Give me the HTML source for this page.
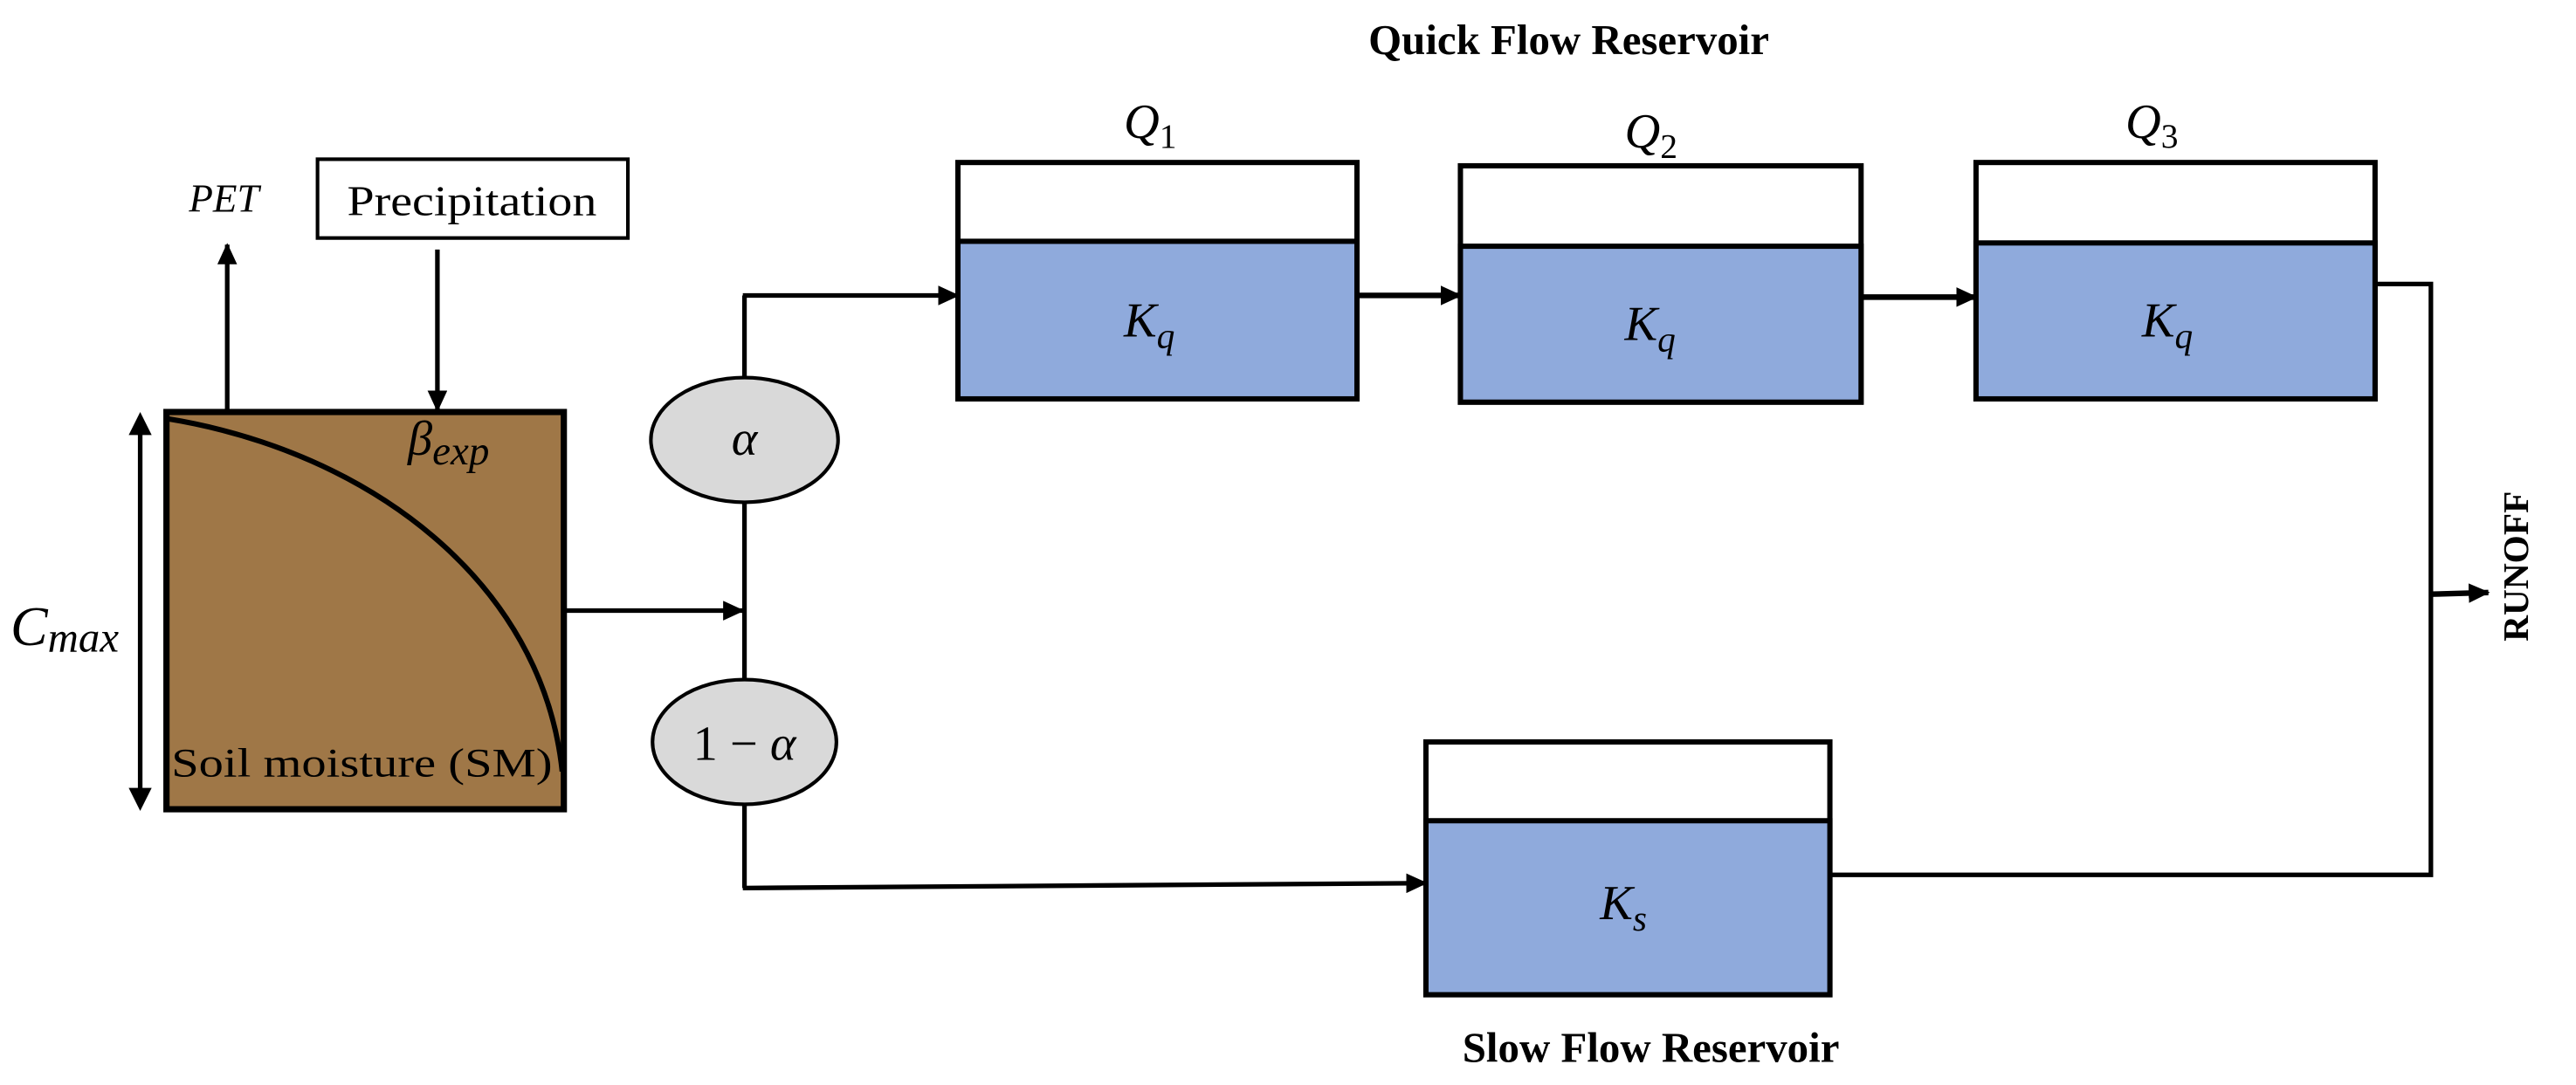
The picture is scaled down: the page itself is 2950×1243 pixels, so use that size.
<!DOCTYPE html>
<html><head><meta charset="utf-8"><style>html,body{margin:0;padding:0;background:#fff}svg{display:block}</style></head>
<body>
<svg width="2950" height="1243" viewBox="0 0 1568 661" xmlns="http://www.w3.org/2000/svg" font-family="Liberation Serif, serif">
<defs>
<marker id="ah" markerWidth="13" markerHeight="12" refX="12" refY="6" orient="auto" markerUnits="userSpaceOnUse">
<path d="M0,0 L13,6 L0,12 Z" fill="#000"/></marker>
</defs>
<g fill="none" stroke="#000" stroke-width="2.8">
<rect x="101" y="251" width="242" height="242" fill="#9F7747" stroke-width="3.8"/>
<path d="M101,255 C225,275 330,355 342,470" stroke-width="3.2"/>
<line x1="85" y1="264" x2="85" y2="481" />
<path d="M78,265 L85,251 L92,265 Z M78,480 L85,494 L92,480 Z" fill="#000" stroke="none"/>
<line x1="138" y1="250" x2="138" y2="149" marker-end="url(#ah)"/>
<rect x="193" y="97" width="189" height="48" fill="#fff" stroke-width="2.2"/>
<line x1="266" y1="152" x2="266" y2="250" marker-end="url(#ah)"/>
<line x1="343" y1="372" x2="452" y2="372" marker-end="url(#ah)"/>
<line x1="453" y1="180" x2="453" y2="541"/>
<line x1="452" y1="180" x2="583" y2="180" marker-end="url(#ah)"/>
<polyline points="452,541 868,538" marker-end="url(#ah)"/>
<ellipse cx="453" cy="268" rx="57" ry="38" fill="#D9D9D9" stroke-width="2.2"/>
<ellipse cx="453" cy="452" rx="56" ry="38" fill="#D9D9D9" stroke-width="2.2"/>
<rect x="583" y="99" width="243" height="144" fill="#fff" stroke-width="3.2"/>
<rect x="583" y="147" width="243" height="96" fill="#8FAADC" stroke-width="3.2"/>
<rect x="889" y="101" width="244" height="144" fill="#fff" stroke-width="3.2"/>
<rect x="889" y="150" width="244" height="95" fill="#8FAADC" stroke-width="3.2"/>
<rect x="1203" y="99" width="243" height="144" fill="#fff" stroke-width="3.2"/>
<rect x="1203" y="148" width="243" height="95" fill="#8FAADC" stroke-width="3.2"/>
<line x1="826" y1="180" x2="889" y2="180" marker-end="url(#ah)" stroke-width="3.4"/>
<line x1="1133" y1="181" x2="1203" y2="181" marker-end="url(#ah)" stroke-width="3.4"/>
<polyline points="1446,173 1480,173 1480,533 1114,533"/>
<line x1="1480" y1="362" x2="1515" y2="361" marker-end="url(#ah)" stroke-width="3.4"/>
<rect x="868" y="452" width="246" height="154" fill="#fff" stroke-width="3.2"/>
<rect x="868" y="500" width="246" height="106" fill="#8FAADC" stroke-width="3.2"/>
</g>
<g font-size="26" fill="#000">
<text x="211" y="131" textLength="152" lengthAdjust="spacingAndGlyphs">Precipitation</text>
<text x="104" y="473" font-size="25" textLength="232" lengthAdjust="spacingAndGlyphs">Soil moisture (SM)</text>
<text x="136" y="129" text-anchor="middle" font-style="italic" font-size="24">PET</text>
<text x="6" y="393" font-style="italic" font-size="34">C<tspan font-size="26" dy="4">max</tspan></text>
<text x="248" y="277" font-style="italic" font-size="30">β<tspan font-size="25" dy="6">exp</tspan></text>
<text x="453" y="277" text-anchor="middle" font-style="italic" font-size="30">α</text>
<text x="453" y="463" text-anchor="middle" font-size="30">1 − <tspan font-style="italic">α</tspan></text>
<text x="955" y="33" text-anchor="middle" font-weight="bold" font-size="26">Quick Flow Reservoir</text>
<text x="1005" y="647" text-anchor="middle" font-weight="bold" font-size="26">Slow Flow Reservoir</text>
<text x="684" y="84" font-style="italic" font-size="30">Q<tspan font-size="21" dy="6" font-style="normal">1</tspan></text>
<text x="989" y="90" font-style="italic" font-size="30">Q<tspan font-size="21" dy="6" font-style="normal">2</tspan></text>
<text x="1294" y="84" font-style="italic" font-size="30">Q<tspan font-size="21" dy="6" font-style="normal">3</tspan></text>
<text x="684" y="205" font-style="italic" font-size="30">K<tspan font-size="22" dy="7">q</tspan></text>
<text x="989" y="207" font-style="italic" font-size="30">K<tspan font-size="22" dy="7">q</tspan></text>
<text x="1304" y="205" font-style="italic" font-size="30">K<tspan font-size="22" dy="7">q</tspan></text>
<text x="974" y="560" font-style="italic" font-size="30">K<tspan font-size="22" dy="7">s</tspan></text>
<text transform="translate(1539,345) rotate(-90)" text-anchor="middle" font-weight="bold" font-size="22">RUNOFF</text>
</g>
</svg>
</body></html>
